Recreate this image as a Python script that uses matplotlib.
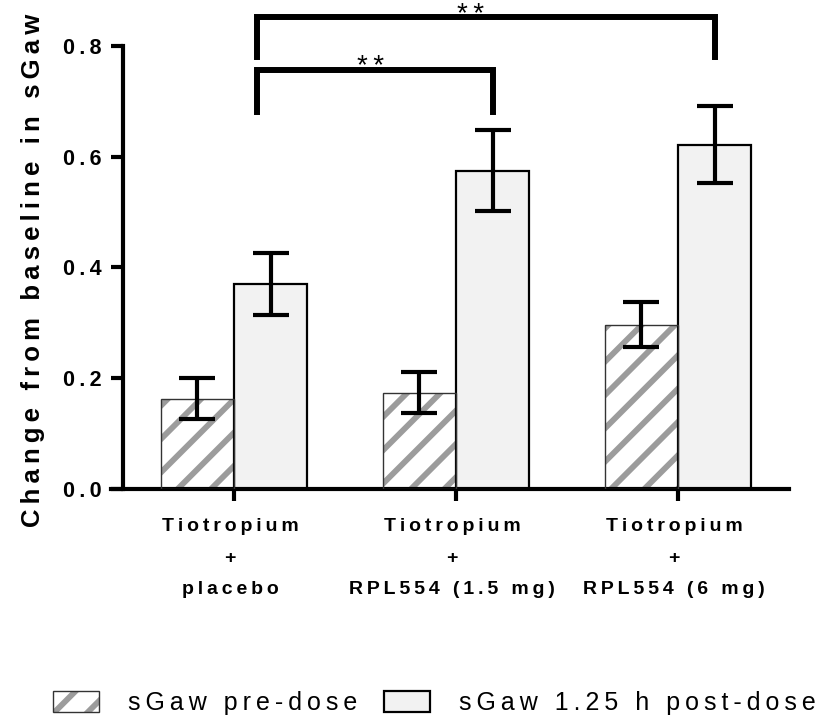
import matplotlib
matplotlib.use('Agg')
import matplotlib.pyplot as plt
from matplotlib.patches import Patch
from matplotlib.legend_handler import HandlerTuple
from matplotlib.transforms import ScaledTranslation
import numpy as np

plt.rcParams['font.family'] = ['Liberation Sans', 'DejaVu Sans']
plt.rcParams['hatch.linewidth'] = 4.2

# data
groups = ['Tiotropium\n+\nplacebo', 'Tiotropium\n+\nRPL554 (1.5 mg)', 'Tiotropium\n+\nRPL554 (6 mg)']
pre_dose = [0.163, 0.174, 0.297]
pre_err = [0.037, 0.037, 0.041]
post_dose = [0.370, 0.575, 0.622]
post_err = [0.056, 0.073, 0.070]
series_labels = ['sGaw pre-dose', 'sGaw 1.25 h post-dose']
yticks = [0.0, 0.2, 0.4, 0.6, 0.8]

# significance brackets: x positions (left, right), top and leg bottom
brackets = [((0.104, 1.165), 0.757, 0.681), ((0.104, 2.165), 0.852, 0.780)]
stars_pos = [(0.614, 0.750), (1.065, 0.843)]


def spaced(s, gap='\u2009'):
    # GraphPad-like letter spacing
    return '\n'.join(gap.join(line) for line in s.split('\n'))


hatch_grey = '#9c9c9c'
light = '#f2f2f2'

fig = plt.figure(figsize=(8.35, 7.27), dpi=100)
ax = fig.add_axes([0.1473, 0.3274, 0.7976, 0.6726])

x = np.arange(len(groups))
w = 0.33

ax.bar(x - w / 2, pre_dose, w, color='white', edgecolor=hatch_grey, hatch='/', linewidth=0, zorder=2)
ax.bar(x - w / 2, pre_dose, w, fill=False, edgecolor='#333333', linewidth=1.0, zorder=3)
ax.bar(x + w / 2, post_dose, w, color=light, edgecolor='black', linewidth=1.6, zorder=2)

ax.errorbar(x - w / 2, pre_dose, yerr=pre_err, fmt='none', ecolor='black',
            elinewidth=3, capsize=13, capthick=3, zorder=4)
ax.errorbar(x + w / 2, post_dose, yerr=post_err, fmt='none', ecolor='black',
            elinewidth=3, capsize=13, capthick=3, zorder=4)

for (xl, xr), top, bottom in brackets:
    ax.plot([xl, xl, xr, xr], [bottom, top, top, bottom], color='black', lw=4.3,
            solid_joinstyle='miter', clip_on=False, zorder=5)
for sx, sy in stars_pos:
    ax.text(sx, sy, spaced('**'), ha='center', va='baseline', fontsize=20, clip_on=False)

ax.set_xlim(-0.5, 2.5)
ax.set_ylim(0, 0.883)
ax.spines['top'].set_visible(False)
ax.spines['right'].set_visible(False)
ax.spines['left'].set_linewidth(3)
ax.spines['bottom'].set_linewidth(3)
ax.spines['left'].set_bounds(0, 0.8)
ax.spines['bottom'].set_bounds(-0.555, 2.5)

ax.set_yticks(yticks, [spaced(f'{v:.1f}') for v in yticks], fontsize=15.5, fontweight='bold')
ax.set_xticks(x, [spaced(g) for g in groups], fontsize=14, fontweight='bold', linespacing=2.15)
ax.tick_params(axis='both', width=3, length=8.6)
ax.tick_params(axis='y', pad=7)
ax.tick_params(axis='x', pad=12)
shift = ScaledTranslation(-0.04, 0, fig.dpi_scale_trans)
for lab in ax.get_xticklabels():
    lab.set_transform(lab.get_transform() + shift)

fig.text(33 / 835, 1 - 270 / 727, spaced('Change from baseline in sGaw'), rotation=90,
         ha='center', va='center', fontsize=18.5, fontweight='bold')

h_pre = (Patch(facecolor='white', edgecolor=hatch_grey, hatch='/', linewidth=0),
         Patch(fill=False, edgecolor='#333333', linewidth=1.0))
h_post = Patch(facecolor=light, edgecolor='black', linewidth=1.6)
fig.legend([h_pre, h_post], [spaced(s) for s in series_labels],
           handler_map={tuple: HandlerTuple(ndivide=1, pad=0)},
           loc='center', bbox_to_anchor=(0.52, 0.033), ncol=2, frameon=False,
           fontsize=18, handlelength=1.85, handleheight=0.95,
           handletextpad=1.15, columnspacing=1.05)

fig.savefig('out.png', dpi=100)
